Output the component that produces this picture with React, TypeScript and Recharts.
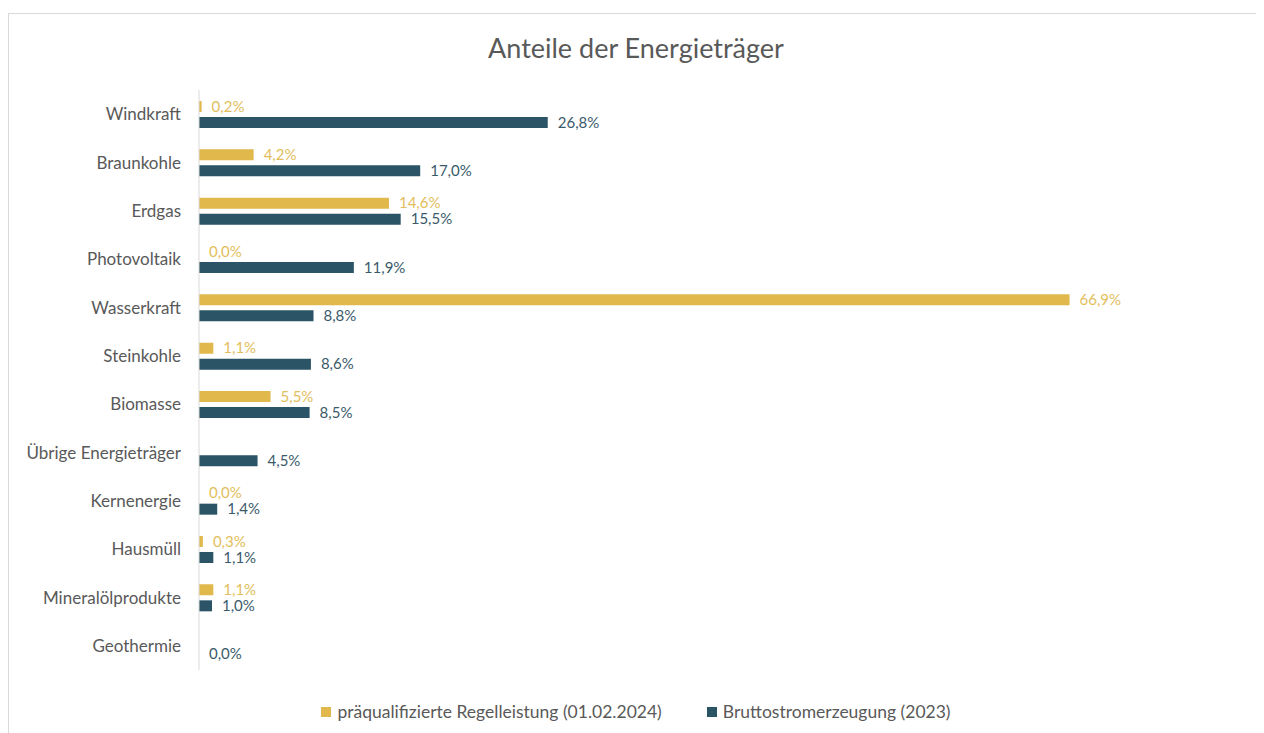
import React from "react";
import { BarChart, Bar, XAxis, YAxis, LabelList } from "recharts";

const categories = [
  "Windkraft",
  "Braunkohle",
  "Erdgas",
  "Photovoltaik",
  "Wasserkraft",
  "Steinkohle",
  "Biomasse",
  "Übrige Energieträger",
  "Kernenergie",
  "Hausmüll",
  "Mineralölprodukte",
  "Geothermie",
];
const regelleistung: (number | null)[] = [0.2, 4.2, 14.6, 0.0, 66.9, 1.1, 5.5, null, 0.0, 0.3, 1.1, null];
const bruttostrom: number[] = [26.8, 17.0, 15.5, 11.9, 8.8, 8.6, 8.5, 4.5, 1.4, 1.1, 1.0, 0.0];

const seriesNames = ["präqualifizierte Regelleistung (01.02.2024)", "Bruttostromerzeugung (2023)"];
const title = "Anteile der Energieträger";

// zero values get a hair-width bar so that their labels are still drawn
const EPS = 0.0001;
const plotVal = (v: number | null) => (v === null ? null : v === 0 ? EPS : v);

const data = categories.map((c, i) => ({
  name: c,
  regel: regelleistung[i],
  brutto: bruttostrom[i],
  regelPlot: plotVal(regelleistung[i]),
  bruttoPlot: plotVal(bruttostrom[i]),
}));

const YELLOW = "#E1B84C";
const BLUE = "#2B5466";
const FONT = "Lato, 'Open Sans', sans-serif";

const fmt = (v: any) => (v === null || v === undefined ? "" : `${Number(v).toFixed(1).replace(".", ",")}%`);

const LegendContent = () => (
  <div style={{ display: "flex", justifyContent: "center", gap: 45, fontFamily: FONT, fontSize: 17.5, color: "#595959" }}>
    {[YELLOW, BLUE].map((c, i) => (
      <div key={i} style={{ display: "flex", alignItems: "center" }}>
        <span style={{ display: "inline-block", width: 10, height: 10, background: c, marginRight: 6 }} />
        <span>{seriesNames[i]}</span>
      </div>
    ))}
  </div>
);

export default function App() {
  return (
    <div
      style={{
        position: "relative",
        marginTop: 5,
        width: 1256,
        height: 725,
        border: "1px solid #D9D9D9",
        boxSizing: "border-box",
        background: "#fff",
      }}
    >
      <div
        style={{
          position: "absolute",
          top: 17,
          left: 0,
          width: "100%",
          textAlign: "center",
          fontFamily: FONT,
          fontSize: 27,
          color: "#595959",
        }}
      >
        {title}
      </div>
      <div style={{ position: "absolute", top: -1, left: -1 }}>
        <BarChart
          width={1256}
          height={720}
          data={data}
          layout="vertical"
          margin={{ top: 77, right: 24, bottom: 63, left: 0 }}
          barSize={11}
          barGap={5}
        >
          <XAxis type="number" domain={[0, 80]} hide />
          <YAxis
            type="category"
            dataKey="name"
            width={191}
            axisLine={{ stroke: "#D9D9D9" }}
            tickLine={false}
            tickMargin={12}
            interval={0}
            tick={{ fill: "#595959", fontSize: 17, fontFamily: FONT }}
          />
          <Bar dataKey="regelPlot" fill={YELLOW} isAnimationActive={false}>
            <LabelList
              dataKey="regel"
              position="right"
              offset={10}
              formatter={fmt}
              style={{ fill: "#E2BE5C", fontSize: 15, fontFamily: FONT }}
            />
          </Bar>
          <Bar dataKey="bruttoPlot" fill={BLUE} isAnimationActive={false}>
            <LabelList
              dataKey="brutto"
              position="right"
              offset={10}
              formatter={fmt}
              style={{ fill: "#3A5A6A", fontSize: 15, fontFamily: FONT }}
            />
          </Bar>
        </BarChart>
      </div>
      <div style={{ position: "absolute", top: 687, left: 0, width: "100%" }}>
        <LegendContent />
      </div>
    </div>
  );
}
